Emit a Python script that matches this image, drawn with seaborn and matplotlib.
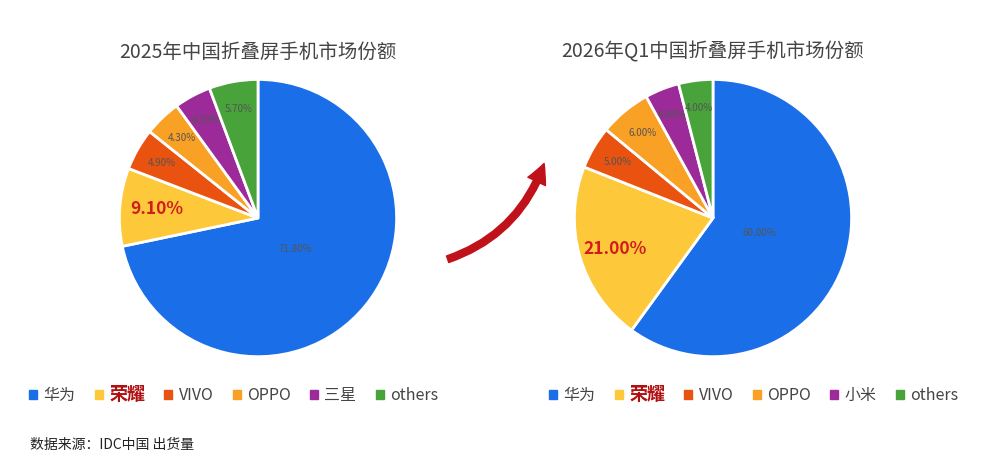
import numpy as np
import seaborn as sns
import matplotlib.pyplot as plt
from matplotlib.patches import FancyArrowPatch

sns.set_theme(style='white')
plt.rcParams['font.family'] = ['Noto Sans CJK SC', 'DejaVu Sans']

brands_2025 = ['华为', '荣耀', 'VIVO', 'OPPO', '三星', 'others']
share_2025 = [71.8, 9.1, 4.9, 4.3, 4.3, 5.7]
brands_2026 = ['华为', '荣耀', 'VIVO', 'OPPO', '小米', 'others']
share_2026 = [60.0, 21.0, 5.0, 6.0, 4.0, 4.0]
colors = ['#1a6ee8', '#fdc93a', '#ea5210', '#f9a125', '#9c2a98', '#47a33a']

fig = plt.figure(figsize=(10, 4.73), dpi=100)
fig.patch.set_facecolor('white')

def draw_pie(rect, values, labels, title, title_y, legend_x):
    ax = fig.add_axes(rect)
    wedges, texts = ax.pie(values, colors=colors, startangle=90, counterclock=False,
                           wedgeprops=dict(edgecolor='white', linewidth=2))
    for i, (w, v) in enumerate(zip(wedges, values)):
        ang = np.deg2rad((w.theta1 + w.theta2) / 2)
        r = 0.35 if i == 0 else 0.8
        x, y = r * np.cos(ang), r * np.sin(ang)
        if i == 1:
            ax.text(x * 0.92, y, f'{v:.2f}%', ha='center', va='center', fontsize=12.5,
                    fontweight='bold', color='#d11c1c')
        else:
            ax.text(x, y, f'{v:.2f}%', ha='center', va='center', fontsize=7, color='#555555')
    ax.set_xlim(-1.01, 1.01)
    ax.set_ylim(-1.01, 1.01)
    ax.set_aspect('equal')
    fig.text(rect[0] + rect[2] / 2, title_y, title, ha='center', va='center',
             fontsize=14, color='#444444')
    handles = [plt.Rectangle((0, 0), 1, 1, color=c) for c in colors]
    leg = fig.legend(handles, labels, loc='center left', bbox_to_anchor=(legend_x, 0.165),
                     ncol=6, frameon=False, fontsize=11.5, handlelength=0.5, handleheight=0.5,
                     columnspacing=1.2, handletextpad=0.4)
    for t in leg.get_texts():
        t.set_color('#444444')
        if t.get_text() == '荣耀':
            t.set_color('#b01010')
            t.set_fontweight('bold')
            t.set_fontsize(13)

draw_pie([0.118, 0.243, 0.28, 0.592], share_2025, brands_2025,
         '2025年中国折叠屏手机市场份额', 0.89, 0.015)
draw_pie([0.573, 0.243, 0.28, 0.592], share_2026, brands_2026,
         '2026年Q1中国折叠屏手机市场份额', 0.89, 0.535)

arrow = FancyArrowPatch((0.445, 0.45), (0.545, 0.66), transform=fig.transFigure,
                        connectionstyle='arc3,rad=0.25', arrowstyle='simple,head_width=14,head_length=14,tail_width=5',
                        color='#c0121b')
fig.patches.append(arrow)

fig.text(0.03, 0.05, '数据来源：IDC中国 出货量', fontsize=10, color='#222222')

fig.savefig('out.png', dpi=100)
